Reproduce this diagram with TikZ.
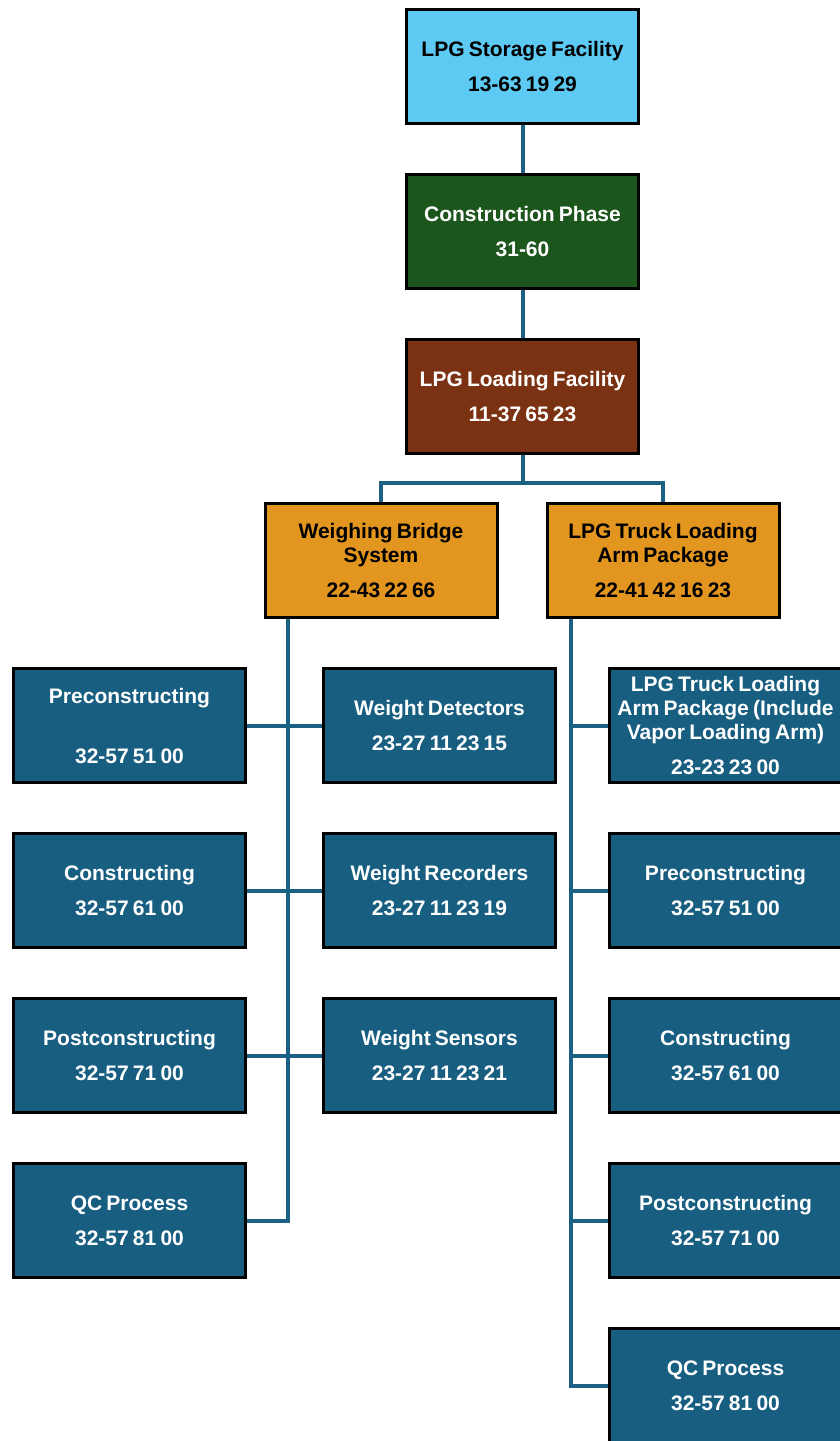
\documentclass[tikz,border=0pt]{standalone}
\usepackage{fontspec}
\setmainfont{Liberation Sans}
\usepackage{xcolor}
\usetikzlibrary{positioning}

\definecolor{skyfill}{HTML}{5DCAF3}
\definecolor{phasefill}{HTML}{1D561D}
\definecolor{brownfill}{HTML}{7A3212}
\definecolor{orangefill}{HTML}{E3961F}
\definecolor{taskfill}{HTML}{175E81}
\definecolor{linkcol}{HTML}{1B6184}
\newcommand\boxfont{\fontsize{21}{24}\selectfont\bfseries\spaceskip=0.2em plus 0.05em\relax}

\begin{document}
\begin{tikzpicture}[x=1pt, y=-1pt, node distance=48pt,
  box/.style={draw=black, line width=3pt, minimum width=232pt, minimum height=114pt,
    align=center, font=\boxfont, inner sep=1pt},
  topbox/.style={box, fill=skyfill, text=black},
  phasebox/.style={box, fill=phasefill, text=white},
  sitebox/.style={box, fill=brownfill, text=white},
  sysbox/.style={box, fill=orangefill, text=black},
  taskbox/.style={box, fill=taskfill, text=white},
  link/.style={draw=linkcol, line width=4pt}]
 \useasboundingbox (0,0) rectangle (840,1441);
 \clip (0,0) rectangle (840,1441);
 % main chain
 \node[topbox] (storage) at (522.5,66.5) {LPG Storage Facility\\[11pt]13-63 19 29};
 \node[phasebox, below=of storage] (phase) {Construction Phase\\[11pt]31-60};
 \node[sitebox, below=of phase] (loading) {LPG Loading Facility\\[11pt]11-37 65 23};
 % the two packages
 \node[sysbox, below=47pt of loading, xshift=-141.5pt] (bridge) {Weighing Bridge\\System\\[11pt]22-43 22 66};
 \node[sysbox, right=47pt of bridge] (truckarm) {LPG Truck Loading\\Arm Package\\[11pt]22-41 42 16 23};
 % left column
 \node[taskbox] (pre1) at (129.5,725.5) {Preconstructing\\[36pt]32-57 51 00};
 \node[taskbox, below=of pre1] (con1) {Constructing\\[11pt]32-57 61 00};
 \node[taskbox, below=of con1] (post1) {Postconstructing\\[11pt]32-57 71 00};
 \node[taskbox, below=of post1] (qc1) {QC Process\\[11pt]32-57 81 00};
 % middle column
 \node[taskbox, right=75pt of pre1] (det) {Weight Detectors\\[11pt]23-27 11 23 15};
 \node[taskbox, below=of det] (rec) {Weight Recorders\\[11pt]23-27 11 23 19};
 \node[taskbox, below=of rec] (sen) {Weight Sensors\\[11pt]23-27 11 23 21};
 % right column
 \node[taskbox, right=51pt of det] (arm2) {LPG Truck Loading\\Arm Package (Include\\Vapor Loading Arm)\\[11pt]23-23 23 00};
 \node[taskbox, below=of arm2] (pre2) {Preconstructing\\[11pt]32-57 51 00};
 \node[taskbox, below=of pre2] (con2) {Constructing\\[11pt]32-57 61 00};
 \node[taskbox, below=of con2] (post2) {Postconstructing\\[11pt]32-57 71 00};
 \node[taskbox, below=of post2] (qc2) {QC Process\\[11pt]32-57 81 00};
 % connectors
 \draw[link] (storage) -- (phase);
 \draw[link] (phase) -- (loading);
 \draw[link] (loading.south) -- ++(0,28) -| (bridge.north);
 \draw[link] (loading.south) -- ++(0,28) -| (truckarm.north);
 \coordinate (ltop) at ([xshift=24pt]bridge.south west);
 \coordinate (rtop) at ([xshift=25pt]truckarm.south west);
 \draw[link] (ltop) |- (qc1.east);
 \draw[link] (pre1) -- (det);
 \draw[link] (con1) -- (rec);
 \draw[link] (post1) -- (sen);
 \draw[link] (rtop) |- (qc2.west);
 \foreach \n in {arm2,pre2,con2,post2}
  \draw[link] (\n.west) -- (\n.west -| rtop);
\end{tikzpicture}
\end{document}
